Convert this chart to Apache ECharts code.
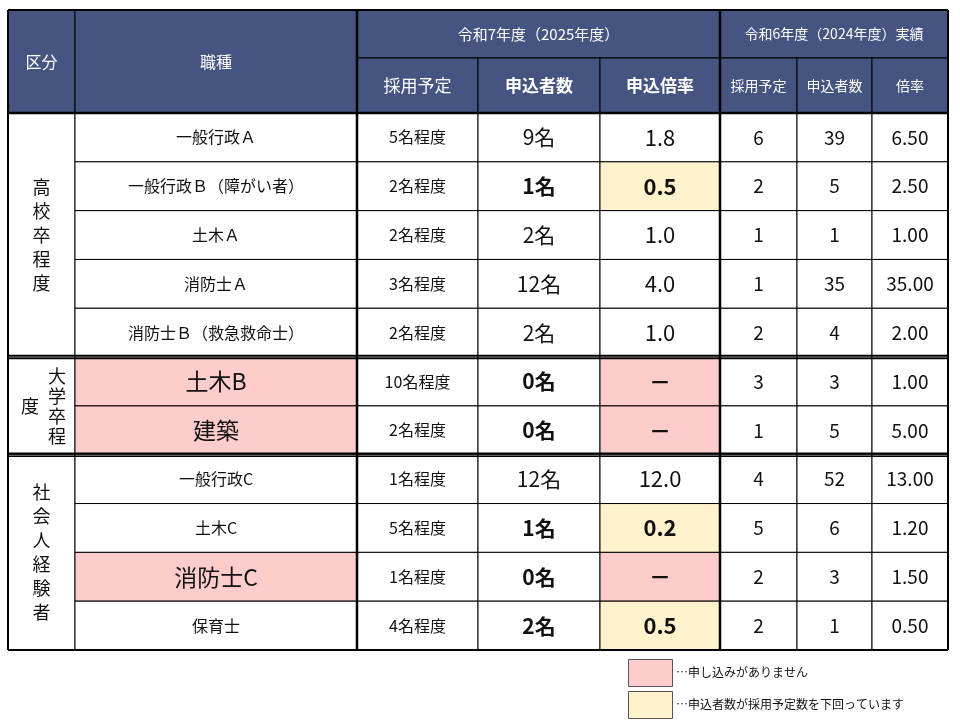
<!DOCTYPE html><html><head><meta charset="utf-8"><script src="https://cdn.jsdelivr.net/npm/echarts@6/dist/echarts.min.js"></script>
<style>html,body{margin:0;background:#fff}#c{width:960px;height:720px}</style></head><body><div id="c"></div><script>
const groups=["高校卒程度","大学卒程度","社会人経験者"];
const jobs=["一般行政Ａ","一般行政Ｂ（障がい者）","土木Ａ","消防士Ａ","消防士Ｂ（救急救命士）","土木B","建築","一般行政C","土木C","消防士C","保育士"];
const plan2025=["5名程度","2名程度","2名程度","3名程度","2名程度","10名程度","2名程度","1名程度","5名程度","1名程度","4名程度"];
const applicants2025=["9名","1名","2名","12名","2名","0名","0名","12名","1名","0名","2名"];
const ratio2025=["1.8","0.5","1.0","4.0","1.0","－","－","12.0","0.2","－","0.5"];
const plan2024=[6,2,1,1,2,3,1,4,5,2,2];
const applicants2024=[39,5,1,35,4,3,5,52,6,3,1];
const ratio2024=["6.50","2.50","1.00","35.00","2.00","1.00","5.00","13.00","1.20","1.50","0.50"];
const status=["","short","","","","none","none","","short","none","short"]; // none: 申込なし, short: 下回り
const headers={kubun:"区分",job:"職種",y2025:"令和7年度（2025年度）",y2024:"令和6年度（2024年度）実績",sub2025:["採用予定","申込者数","申込倍率"],sub2024:["採用予定","申込者数","倍率"]};
const legendTexts=["…申し込みがありません","…申込者数が採用予定数を下回っています"];

const X=[0,67,349,470,592,712,789,864,940];
const rowH=(640-103)/11;
const RY=i=>103+rowH*i;
const NAVY="#455480",PINK="#ffcccc",YEL="#fff2cc";
const FF='"Noto Sans CJK JP","Noto Sans",sans-serif';
const cells=[];
function cell(x0,x1,y0,y1,text,o){cells.push(Object.assign({x0,x1,y0,y1,text},o||{}));}
cell(X[0],X[1],0,103,headers.kubun,{fill:NAVY,color:"#fff",size:16});
cell(X[1],X[2],0,103,headers.job,{fill:NAVY,color:"#fff",size:16});
cell(X[2],X[5],0,48,headers.y2025,{fill:NAVY,color:"#fff",size:15});
cell(X[5],X[8],0,48,headers.y2024,{fill:NAVY,color:"#fff",size:14});
headers.sub2025.forEach((t,i)=>cell(X[2+i],X[3+i],48,103,t,{fill:NAVY,color:"#fff",size:17,bold:i>0}));
headers.sub2024.forEach((t,i)=>cell(X[5+i],X[6+i],48,103,t,{fill:NAVY,color:"#fff",size:14}));
cell(X[0],X[1],RY(0),RY(5),groups[0].split("").join("\n"),{size:18,lh:24});
cell(X[0],X[1],RY(5),RY(7),"",{});
cells.push({x0:40,x1:58,y0:RY(5),y1:RY(7),text:groups[1].slice(0,4).split("").join("\n"),size:18,lh:20,nobox:true});
cells.push({x0:12,x1:32,y0:RY(5),y1:RY(7),text:groups[1].slice(4),size:18,nobox:true});
cell(X[0],X[1],RY(7),RY(11),groups[2].split("").join("\n"),{size:18,lh:24});
for(let i=0;i<11;i++){
  const y0=RY(i),y1=RY(i+1),st=status[i];
  cell(X[1],X[2],y0,y1,jobs[i],{fill:st==="none"?PINK:null,size:st==="none"?23:16});
  cell(X[2],X[3],y0,y1,plan2025[i],{size:16});
  cell(X[3],X[4],y0,y1,applicants2025[i],{size:21,bold:st!==""});
  cell(X[4],X[5],y0,y1,ratio2025[i],{size:22,bold:st!=="",fill:st==="none"?PINK:st==="short"?YEL:null});
  cell(X[5],X[6],y0,y1,String(plan2024[i]),{size:19});
  cell(X[6],X[7],y0,y1,String(applicants2024[i]),{size:19});
  cell(X[7],X[8],y0,y1,ratio2024[i],{size:19});
}
const rules=[
  [X[0],0,X[8],0,2],[X[0],640,X[8],640,2],[X[0],0,X[0],640,2],[X[8],0,X[8],640,2],
  [X[2],0,X[2],640,2.5],[X[5],0,X[5],640,2.5],[X[0],103,X[8],103,2.5],
  [X[0],RY(5)-1.5,X[8],RY(5)-1.5,1.5],[X[0],RY(5)+1.5,X[8],RY(5)+1.5,1.5],
  [X[0],RY(7)-1.5,X[8],RY(7)-1.5,1.5],[X[0],RY(7)+1.5,X[8],RY(7)+1.5,1.5]
];
const chart=echarts.init(document.getElementById('c'));
chart.setOption({
  animation:false,
  grid:{left:8,top:10,width:940,height:640},
  xAxis:{type:'value',min:0,max:940,show:false},
  yAxis:{type:'value',min:0,max:640,inverse:true,show:false},
  series:[{type:'custom',data:cells.map((c,i)=>[c.x0,c.y0,i]),clip:false,
    renderItem:(p,api)=>{const c=cells[p.dataIndex];const a=api.coord([c.x0,c.y0]),b=api.coord([c.x1,c.y1]);
      const ch=[];
      if(!c.nobox)ch.push({type:'rect',shape:{x:a[0],y:a[1],width:b[0]-a[0],height:b[1]-a[1]},style:{fill:c.fill||'#fff',stroke:'#000',lineWidth:1}});
      if(c.text)ch.push({type:'text',x:(a[0]+b[0])/2,y:(a[1]+b[1])/2,style:{text:c.text,fill:c.color||'#111',font:(c.bold?'bold ':'')+c.size+'px '+FF,align:'center',verticalAlign:'middle',lineHeight:c.lh||c.size*1.3}});
      return {type:'group',children:ch};}},
   {type:'custom',data:rules.map((r,i)=>[r[0],r[1],i]),clip:false,z:5,
    renderItem:(p,api)=>{const r=rules[p.dataIndex];const a=api.coord([r[0],r[1]]),b=api.coord([r[2],r[3]]);
      return {type:'line',shape:{x1:a[0],y1:a[1],x2:b[0],y2:b[1]},style:{stroke:'#000',lineWidth:r[4]}};}}
  ],
  graphic:[
    {type:'rect',left:628,top:659,shape:{width:44,height:27},style:{fill:PINK,stroke:'#555',lineWidth:1}},
    {type:'text',left:676,top:666,style:{text:legendTexts[0],font:'12px '+FF,fill:'#111'}},
    {type:'rect',left:628,top:691,shape:{width:44,height:27},style:{fill:YEL,stroke:'#555',lineWidth:1}},
    {type:'text',left:676,top:698,style:{text:legendTexts[1],font:'12px '+FF,fill:'#111'}}
  ]
});
</script></body></html>
